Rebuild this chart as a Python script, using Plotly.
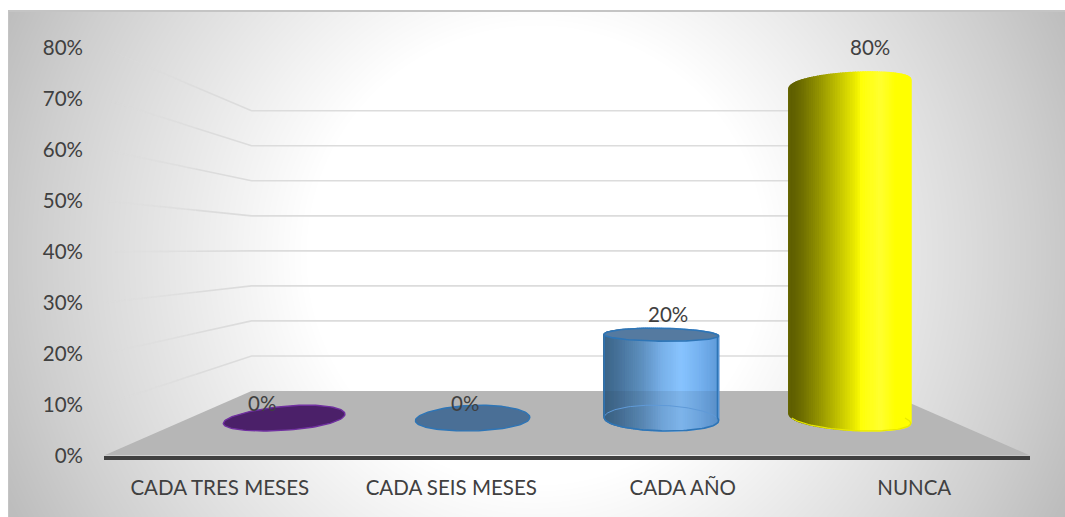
import base64, math, struct, zlib
import numpy as np
import plotly.graph_objects as go

# ---- data ----
categories = ["CADA TRES MESES", "CADA SEIS MESES", "CADA AÑO", "NUNCA"]
values = [0, 0, 20, 80]
data_labels = ["0%", "0%", "20%", "80%"]
y_ticks = [0, 10, 20, 30, 40, 50, 60, 70, 80]
y_tick_labels = ["0%", "10%", "20%", "30%", "40%", "50%", "60%", "70%", "80%"]

# ---- style / geometry ----
W, H = 1065, 517
FONT = "Lato"
FSIZE = 20.5
TEXT = "#404040"
BACK_A, BACK_B = 12.67, 0.6876   # back wall position in front-axis units
X_SHRINK = 0.3186
DEPTH, RX, RD = 0.58, 0.3, 0.2
GRID = (220, 220, 220)
STOPS_BLUE = [(0, "#3b6488"), (.12, "#48749c"), (.3, "#5f91c0"), (.45, "#78b0e8"),
              (.6, "#88c4ff"), (.78, "#74b0ee"), (1, "#5a94d2")]
STOPS_YELLOW = [(0, "#606000"), (.1, "#888800"), (.27, "#c5c500"), (.4, "#f0f000"),
                (.43, "#ffff08"), (.58, "#ffff30"), (.72, "#ffff00"), (1, "#ffff00")]


def project(X, d, v):
    x = 1.5 + (X - 1.5) * (1 - X_SHRINK * d)
    y = (1 - d) * v + d * (BACK_A + BACK_B * v)
    return x, y


def ring(i, v, ts):
    c = 1.5 + (i - 1.5) * 0.994
    pts = [project(c + RX * math.cos(t), DEPTH + RD * math.sin(t), v) for t in ts]
    return [p[0] for p in pts], [p[1] for p in pts]


def hex_rgb(h):
    return tuple(int(h[k:k + 2], 16) for k in (1, 3, 5))


def ramp(stops, u):
    for (a, ca), (b, cb) in zip(stops, stops[1:]):
        if u <= b:
            f = (u - a) / (b - a)
            ra, rb = hex_rgb(ca), hex_rgb(cb)
            return "rgb(%d,%d,%d)" % tuple(round(p + (q - p) * f) for p, q in zip(ra, rb))
    return stops[-1][1]


def background_png():
    fw, fh = W - 8, H - 10
    yy, xx = np.mgrid[10:H, 8:W]
    r = np.hypot(xx - 536, yy - 255)
    g = np.interp(r, [0, 230, 305, 430, 500, 580, 640], [255, 255, 242, 220, 207, 190, 182])
    g = g.astype(np.uint8)
    g[:2, :] = 196
    g[:, :1] = 196
    rows = b"".join(b"\x00" + g[k].tobytes() for k in range(fh))

    def chunk(t, d):
        return struct.pack(">I", len(d)) + t + d + struct.pack(">I", zlib.crc32(t + d))

    png = b"\x89PNG\r\n\x1a\n" + chunk(b"IHDR", struct.pack(">IIBBBBB", fw, fh, 8, 0, 0, 0, 0)) \
        + chunk(b"IDAT", zlib.compress(rows)) + chunk(b"IEND", b"")
    return "data:image/png;base64," + base64.b64encode(png).decode()


fig = go.Figure()


def poly(xs, ys, fill, line=None, lw=0.0):
    fig.add_trace(go.Scatter(x=xs, y=ys, mode="lines", fill="toself", fillcolor=fill,
                             line=dict(color=line or fill, width=lw), hoverinfo="skip",
                             showlegend=False, cliponaxis=False))


def path(xs, ys, color, lw):
    fig.add_trace(go.Scatter(x=xs, y=ys, mode="lines", line=dict(color=color, width=lw),
                             hoverinfo="skip", showlegend=False, cliponaxis=False))


# floor
corners = [project(-0.5, 0, 0), project(-0.5, 1, 0), project(3.5, 1, 0), project(3.5, 0, 0)]
poly([c[0] for c in corners], [c[1] for c in corners], "#b6b6b6")

# wall grid lines: fading side wall + back wall
LEVELS = 10
for k in range(LEVELS):
    xs, ys = [], []
    for v in y_ticks[1:]:
        a = project(-0.5, 0.02 + 0.06 * k, v)
        b = project(-0.5, 0.02 + 0.06 * (k + 1), v)
        xs += [a[0], b[0], None]
        ys += [a[1], b[1], None]
    path(xs, ys, "rgba(%d,%d,%d,%.2f)" % (*GRID, (k + 1) / LEVELS * 0.85), 1.6)
xs, ys = [], []
for v in y_ticks[1:]:
    a = project(-0.5, 0.62, v)
    b = project(-0.5, 1, v)
    c = project(3.5, 1, v)
    xs += [a[0], b[0], c[0], None]
    ys += [a[1], b[1], c[1], None]
path(xs, ys, "rgb(%d,%d,%d)" % GRID, 1.6)

# cylinders
FULL = [2 * math.pi * k / 120 for k in range(121)]
STYLE = {
    0: dict(fill="#4b2069", edge="#7030a0"),
    1: dict(fill="#4a6f96", edge="#2e75b6"),
    2: dict(stops=STOPS_BLUE, edge="#2e75b6"),
    3: dict(stops=STOPS_YELLOW, edge="#e8e800"),
}
for i, v in enumerate(values):
    st = STYLE[i]
    if v == 0:
        xs, ys = ring(i, 0, FULL)
        poly(xs, ys, st["fill"], st["edge"], 1.4)
        continue
    n = 160
    angles = [2 * math.pi * k / n for k in range(n)]
    angles.sort(key=lambda t: -math.sin(t + math.pi / n))
    for t in angles:
        pair = [t, t + 2 * math.pi / n]
        bx, by = ring(i, 0, pair)
        tx, ty = ring(i, v, pair)
        u = (1 + math.cos(t + math.pi / n)) / 2
        poly(bx + tx[::-1] + bx[:1], by + ty[::-1] + by[:1], ramp(st["stops"], u), lw=1.2)
    if i == 2:
        # the translucent body looks a little darker over the floor
        front = [math.pi + math.pi * k / 60 for k in range(61)]
        fx, fy = ring(i, 0, front)
        floor_y = project(0, 1, 0)[1]
        poly(fx + [fx[-1], fx[0], fx[0]], fy + [floor_y, floor_y, fy[0]], "rgba(40,50,60,0.10)")
        back = [math.pi * k / 60 for k in range(61)]
        bx, by = ring(i, 0, back)
        path(bx, by, "#5f9ad8", 1.0)
        fx, fy = ring(i, 0, front)
        path(fx, fy, st["edge"], 1.6)
        lx, ly = ring(i, 0, [math.pi])
        ux, uy = ring(i, v, [math.pi])
        path(lx + ux, ly + uy, st["edge"], 1.4)
        lx, ly = ring(i, 0, [0])
        ux, uy = ring(i, v, [0])
        path(lx + ux, ly + uy, st["edge"], 1.4)
        tx, ty = ring(i, v, FULL)
        poly(tx, ty, "#557aa0", st["edge"], 1.6)
    else:
        fx, fy = ring(i, 0, [math.pi + math.pi * k / 60 for k in range(61)])
        path(fx, fy, st["edge"], 1.2)

# data labels
annotations = []
for i, (v, lab) in enumerate(zip(values, data_labels)):
    x, y = project(i, DEPTH - 0.18, v)
    annotations.append(dict(x=x + min(i - 1.5, 0) * 0.006, y=y, xref="x", yref="y", text=lab, showarrow=False,
                            yshift=26.5, font=dict(family=FONT, size=FSIZE, color=TEXT)))

fig.update_layout(
    width=W, height=H, autosize=False,
    margin=dict(l=0, r=0, t=0, b=0),
    paper_bgcolor="white", plot_bgcolor="rgba(0,0,0,0)",
    font=dict(family=FONT, size=FSIZE, color=TEXT),
    showlegend=False,
    annotations=annotations,
    xaxis=dict(domain=[104 / W, 1030 / W], range=[-0.5, 3.5], tickmode="array",
               tickvals=list(range(len(categories))), ticktext=categories,
               showgrid=False, zeroline=False, showline=True, linecolor="#404040", linewidth=4,
               ticks="", ticklabelstandoff=11, automargin=False, fixedrange=True),
    yaxis=dict(domain=[(H - 455.5) / H, (H - 48) / H], range=[0, 80], tickmode="array",
               tickvals=y_ticks, ticktext=y_tick_labels,
               showgrid=False, zeroline=False, showline=False,
               ticks="", ticklabelstandoff=20, automargin=False, fixedrange=True),
    images=[dict(source=background_png(), xref="paper", yref="paper", x=8 / W, y=1 - 10 / H,
                 sizex=(W - 8) / W, sizey=(H - 10) / H, sizing="stretch",
                 xanchor="left", yanchor="top", layer="below")],
)

fig.write_html("out.html", config=dict(displayModeBar=False),
               post_script="document.body.style.margin='0';document.body.style.overflow='hidden';")
